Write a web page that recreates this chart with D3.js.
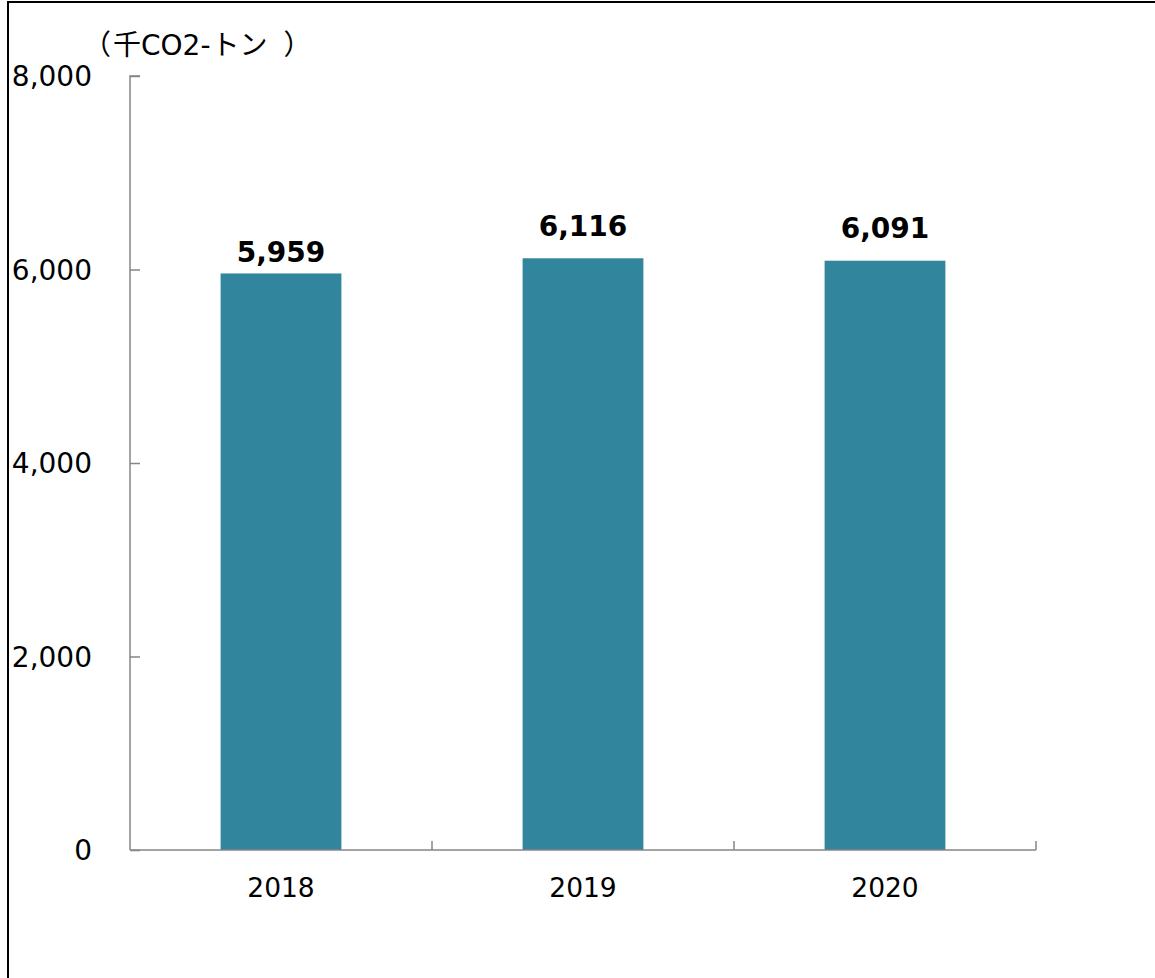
<!DOCTYPE html>
<html>
<head>
<meta charset="utf-8">
<script src="https://cdn.jsdelivr.net/npm/d3@7/dist/d3.min.js"></script>
<style>
  html, body { margin: 0; padding: 0; background: #fff; }
  svg { display: block; }
</style>
</head>
<body>
<svg id="chart" width="1155" height="978"></svg>
<script>
// Annual CO2 emissions (thousand t-CO2)
const years = ["2018", "2019", "2020"];
const emissions = [5959, 6116, 6091];
const yTicks = [0, 2000, 4000, 6000, 8000];
const unitParts = ["（", "千", "CO2-", "トン", "）"];

const W = 1155, H = 978;
const margin = { left: 130, right: 1155 - 1036, top: 76, bottom: 978 - 850 };
const font = "'DejaVu Sans', 'Noto Sans CJK JP', sans-serif";
const cjkFont = "'Noto Sans CJK JP', sans-serif";
const barColor = "#31859C";
const axisColor = "#868686";

const svg = d3.select("#chart");

// frame
svg.append("rect")
  .attr("x", 8).attr("y", 2)
  .attr("width", W + 10).attr("height", H + 10)
  .attr("fill", "#fff")
  .attr("stroke", "#000").attr("stroke-width", 2);

const x = d3.scaleBand()
  .domain(years)
  .range([margin.left, W - margin.right])
  .paddingInner(0.6)
  .paddingOuter(0.3);

const slot = d3.scaleBand()
  .domain(years)
  .range([margin.left, W - margin.right])
  .padding(0);

const y = d3.scaleLinear()
  .domain([0, 8000])
  .range([H - margin.bottom, margin.top]);

// bars
svg.append("g").selectAll("rect")
  .data(years)
  .join("rect")
  .attr("x", d => x(d))
  .attr("width", x.bandwidth())
  .attr("y", (d, i) => y(emissions[i]))
  .attr("height", (d, i) => y(0) - y(emissions[i]))
  .attr("fill", barColor);

// y axis: ticks point inward
const yAxis = svg.append("g")
  .attr("transform", `translate(${margin.left},0)`)
  .call(d3.axisRight(y).tickValues(yTicks).tickSize(10).tickFormat(""));
yAxis.select(".domain").attr("stroke", axisColor).attr("stroke-width", 1.5)
  .attr("d", `M10,${y(8000)}H0V${y(0)}`);
yAxis.selectAll(".tick line").attr("stroke", axisColor).attr("stroke-width", 1.5);

svg.append("g").selectAll("text")
  .data(yTicks)
  .join("text")
  .attr("x", 92)
  .attr("y", d => y(d))
  .attr("dy", "0.36em")
  .attr("text-anchor", "end")
  .attr("font-family", font)
  .attr("font-size", 28)
  .attr("fill", "#000")
  .text(d => d3.format(",")(d));

// x axis: boundary ticks pointing up
const xAxis = svg.append("g")
  .attr("transform", `translate(0,${y(0)})`);
xAxis.append("line")
  .attr("x1", margin.left).attr("x2", W - margin.right)
  .attr("stroke", axisColor).attr("stroke-width", 1.5);
xAxis.selectAll("line.tk")
  .data(years)
  .join("line")
  .attr("class", "tk")
  .attr("x1", d => slot(d) + slot.bandwidth())
  .attr("x2", d => slot(d) + slot.bandwidth())
  .attr("y1", 0).attr("y2", -9)
  .attr("stroke", axisColor).attr("stroke-width", 1.5);

svg.append("g").selectAll("text")
  .data(years)
  .join("text")
  .attr("x", d => slot(d) + slot.bandwidth() / 2)
  .attr("y", 897)
  .attr("text-anchor", "middle")
  .attr("font-family", font)
  .attr("font-size", 26.5)
  .attr("fill", "#000")
  .text(d => d);

// value labels above bars
const labelGap = [11, 22, 23];
svg.append("g").selectAll("text")
  .data(years)
  .join("text")
  .attr("x", d => x(d) + x.bandwidth() / 2)
  .attr("y", (d, i) => y(emissions[i]) - labelGap[i])
  .attr("text-anchor", "middle")
  .attr("font-family", font)
  .attr("font-weight", "bold")
  .attr("font-size", 28)
  .attr("fill", "#000")
  .text((d, i) => d3.format(",")(emissions[i]));

// unit label (Latin part in the tick font, kana/kanji in CJK)
const unitDx = [0, 2, 0, 1, 16];
svg.append("text")
  .attr("x", 83)
  .attr("y", 55)
  .attr("font-size", 28)
  .attr("fill", "#000")
  .selectAll("tspan")
  .data(unitParts)
  .join("tspan")
  .attr("dx", (d, i) => unitDx[i])
  .attr("font-family", d => d === "CO2-" ? font : cjkFont)
  .text(d => d);
</script>
</body>
</html>
